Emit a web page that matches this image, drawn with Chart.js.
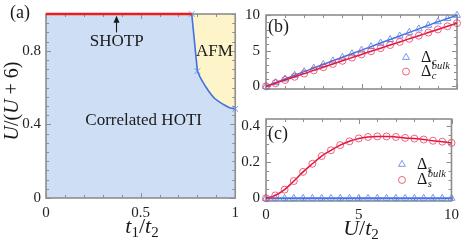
<!DOCTYPE html>
<html>
<head>
<meta charset="utf-8">
<script src="https://cdn.jsdelivr.net/npm/chart.js@4.4.0/dist/chart.umd.min.js"></script>
<style>
  body { margin: 0; background: #fff; }
  #wrap { position: relative; width: 464px; height: 243px; overflow: hidden; }
  canvas { position: absolute; }
</style>
</head>
<body>
<div id="wrap">
  <canvas id="pa" width="245" height="243" style="left:0px;top:0px"></canvas>
  <canvas id="pb" width="228" height="104" style="left:236px;top:0px"></canvas>
  <canvas id="pc" width="228" height="139" style="left:236px;top:104px"></canvas>
</div>
<script>
// --- Dados do painel (a): diagrama de fases ---
const shotpX = [0, 0.77];
const shotpY = [1, 1];
const boundaryX = [0.77, 0.80, 0.815, 0.83, 0.845, 0.86, 0.875, 0.89, 0.91, 0.93, 0.95, 0.97, 1.0];
const boundaryY = [1.0, 0.69, 0.655, 0.628, 0.603, 0.58, 0.56, 0.542, 0.526, 0.513, 0.501, 0.491, 0.484];
const computedX = [0.77, 0.80, 1.0];
const computedY = [1.0, 0.69, 0.484];
const aXTicks = [0, 0.5, 1];
const aYTicks = [0, 0.4, 0.8];

// --- Dados dos painéis (b) e (c) ---
const uValues = [0, 0.5, 1, 1.5, 2, 2.5, 3, 3.5, 4, 4.5, 5, 5.5, 6, 6.5, 7, 7.5, 8, 8.5, 9, 9.5, 10];
const chargeGap = [0, 0.52, 1.04, 1.56, 2.07, 2.58, 3.09, 3.6, 4.1, 4.6, 5.1, 5.6, 6.1, 6.6, 7.1, 7.6, 8.1, 8.6, 9.1, 9.55, 10.0];
const chargeGapBulk = [0, 0.45, 0.9, 1.35, 1.8, 2.25, 2.7, 3.15, 3.6, 4.05, 4.5, 4.94, 5.38, 5.82, 6.26, 6.7, 7.14, 7.58, 8.02, 8.46, 8.9];
const spinGap = [0, 0, 0, 0, 0, 0, 0, 0, 0, 0, 0, 0, 0, 0, 0, 0, 0, 0, 0, 0, 0];
const spinGapBulk = [0, 0.016, 0.048, 0.096, 0.147, 0.192, 0.235, 0.267, 0.296, 0.317, 0.333, 0.341, 0.344, 0.344, 0.341, 0.336, 0.332, 0.327, 0.32, 0.315, 0.308];
const bcXTicks = [0, 5, 10];
const bYTicks = [0, 5, 10];
const cYTicks = [0, 0.2, 0.4];

// --- Estilo ---
const SERIF = '"Liberation Serif", "DejaVu Serif", serif';
const INK = '#1a1a1a';
const FRAME = '#8e8e8e';
const BLUE = '#4170e0';
const BLUE_MK = 'rgba(95,135,235,0.85)';
const RED = '#e3123f';
const RED_MK = 'rgba(235,50,80,0.75)';

Chart.defaults.font.family = SERIF;
Chart.defaults.color = INK;

const pts = (xs, ys) => xs.map((x, i) => ({ x, y: ys[i] }));

// texto com partes em itálico / sub / sobrescrito: [texto, tamanho, itálico, dy]
const richText = (ctx, x, y, parts, align = 'center') => {
  const fontOf = (s, it) => `${it ? 'italic ' : ''}${s}px ${SERIF}`;
  const widths = parts.map(([t, s, it]) => { ctx.font = fontOf(s, it); return ctx.measureText(t).width; });
  const total = widths.reduce((a, b) => a + b, 0);
  let cx = align === 'center' ? x - total / 2 : align === 'right' ? x - total : x;
  ctx.textBaseline = 'alphabetic';
  ctx.textAlign = 'left';
  parts.forEach(([t, s, it, dy = 0], i) => {
    ctx.font = fontOf(s, it);
    ctx.fillText(t, cx, y + dy);
    cx += widths[i];
  });
};

// moldura com ticks para dentro nos quatro lados
const drawFrame = (chart, opts) => {
  const { ctx, chartArea: a, scales: { x, y } } = chart;
  ctx.save();
  ctx.strokeStyle = FRAME;
  ctx.lineWidth = 1;
  const seg = (x1, y1, x2, y2) => { ctx.beginPath(); ctx.moveTo(x1, y1); ctx.lineTo(x2, y2); ctx.stroke(); };
  const steps = (min, max, st) => { const out = []; for (let v = min; v <= max + 1e-9; v += st) out.push(v); return out; };
  const xMaj = x.ticks.map(t => t.value);
  const yMaj = y.ticks.map(t => t.value);
  steps(Math.ceil(x.min / opts.xMinor - 1e-9) * opts.xMinor, x.max, opts.xMinor).forEach(v => {
    const len = xMaj.some(m => Math.abs(m - v) < 1e-6) ? 5 : 3;
    const px = Math.round(x.getPixelForValue(v)) + 0.5;
    seg(px, a.bottom, px, a.bottom - len);
    seg(px, a.top, px, a.top + len);
  });
  steps(Math.ceil(y.min / opts.yMinor - 1e-9) * opts.yMinor, y.max, opts.yMinor).forEach(v => {
    const len = yMaj.some(m => Math.abs(m - v) < 1e-6) ? 5 : 3;
    const py = Math.round(y.getPixelForValue(v)) + 0.5;
    seg(a.left, py, a.left + len, py);
    seg(a.right, py, a.right - len, py);
  });
  ctx.lineWidth = 1.6;
  ctx.strokeRect(a.left, a.top, a.right - a.left, a.bottom - a.top);
  ctx.restore();
};

const frameTicks = {
  id: 'frameTicks',
  beforeDatasetsDraw(chart, args, opts) {
    if (opts.afterIndex === undefined) drawFrame(chart, opts);
  },
  afterDatasetDraw(chart, args, opts) {
    if (args.index === opts.afterIndex) drawFrame(chart, opts);
  }
};

const axis = (min, max, ticks, size, pad, extra = {}) => ({
  type: 'linear', min, max,
  grid: { display: false, drawTicks: false },
  border: { display: false },
  afterBuildTicks: s => { s.ticks = ticks.map(v => ({ value: v })); },
  ticks: { font: { size: 15 }, color: '#222', padding: pad, callback: v => String(v), ...extra },
  afterFit: s => { if (s.isHorizontal()) s.height = size; else s.width = size; }
});

// --- Painel (a) ---
new Chart(document.getElementById('pa'), {
  type: 'scatter',
  data: {
    datasets: [
      {
        data: pts(shotpX, shotpY), showLine: true, clip: false,
        borderColor: '#ee1c1c', borderWidth: 2.6, pointRadius: 0
      },
      {
        data: pts(computedX, computedY), showLine: false, clip: false,
        pointStyle: 'crossRot', pointRadius: 4, pointBorderColor: BLUE_MK, pointBorderWidth: 1
      },
      {
        data: pts(boundaryX, boundaryY), showLine: true, fill: 'end',
        backgroundColor: '#fdf4c9', borderColor: BLUE, borderWidth: 1.6,
        tension: 0, pointRadius: 0
      }
    ]
  },
  options: {
    responsive: false, animation: false, events: [],
    layout: { padding: { top: 7, right: 8 }, autoPadding: false },
    plugins: {
      legend: { display: false }, tooltip: { enabled: false },
      frameTicks: { xMinor: 0.1, yMinor: 0.05, afterIndex: 2 }
    },
    scales: {
      x: axis(0, 1, aXTicks, 45, 6),
      y: axis(0, 1, aYTicks, 46, 5)
    }
  },
  plugins: [
    {
      id: 'phaseBg',
      beforeDatasetsDraw(chart) {
        const { ctx, chartArea: a } = chart;
        ctx.save();
        ctx.fillStyle = '#cddef5';
        ctx.fillRect(a.left, a.top, a.right - a.left, a.bottom - a.top);
        ctx.restore();
      }
    },
    frameTicks,
    {
      id: 'phaseText',
      afterDraw(chart) {
        const { ctx, scales: { x, y } } = chart;
        ctx.save();
        ctx.fillStyle = INK;
        richText(ctx, 10, 18, [['(a)', 18, false]], 'left');
        richText(ctx, x.getPixelForValue(0.374), y.getPixelForValue(0.827), [['SHOTP', 17, false]]);
        richText(ctx, x.getPixelForValue(0.89), y.getPixelForValue(0.77), [['AFM', 17, false]]);
        richText(ctx, x.getPixelForValue(0.516), y.getPixelForValue(0.398), [['Correlated HOTI', 17, false]]);
        // seta SHOTP
        const ax = Math.round(x.getPixelForValue(0.37)) + 0.5;
        const top = y.getPixelForValue(0.99), bot = y.getPixelForValue(0.9);
        ctx.strokeStyle = INK; ctx.lineWidth = 1.1;
        ctx.beginPath(); ctx.moveTo(ax, bot); ctx.lineTo(ax, top + 3); ctx.stroke();
        ctx.beginPath(); ctx.moveTo(ax, top); ctx.lineTo(ax - 3, top + 7); ctx.lineTo(ax + 3, top + 7); ctx.closePath(); ctx.fill();
        // títulos dos eixos
        richText(ctx, 142, 233, [['t', 22, true], ['1', 15, false, 4], ['/', 22, false], ['t', 22, true], ['2', 15, false, 4]]);
        ctx.translate(18, 101);
        ctx.rotate(-Math.PI / 2);
        richText(ctx, 0, 0, [['U', 20, true], ['/(', 20, false], ['U', 20, true], [' + 6)', 20, false]]);
        ctx.restore();
      }
    }
  ]
});

// legenda desenhada dentro do gráfico
const legendEntry = (ctx, x, y, style, color, sub, sup) => {
  ctx.save();
  ctx.strokeStyle = color;
  ctx.fillStyle = 'rgba(0,0,0,0)';
  Chart.helpers.drawPoint(ctx, { pointStyle: style, radius: style === 'circle' ? 3.5 : 4, rotation: 0, borderWidth: 1 }, x, y);
  ctx.fillStyle = INK;
  const tx = x + 15, base = y + 4.5;
  richText(ctx, tx, base, [['Δ', 16, false]], 'left');
  ctx.font = `16px ${SERIF}`;
  const dw = ctx.measureText('Δ').width;
  richText(ctx, tx + dw + 0.5, base + 3, [[sub, 10.5, true]], 'left');
  if (sup) richText(ctx, tx + dw + 0.5, base - 7.5, [[sup, 10.5, true]], 'left');
  ctx.restore();
};

const gapChart = (id, opts) => new Chart(document.getElementById(id), {
  type: 'scatter',
  data: {
    datasets: [
      {
        data: pts(uValues, opts.red), showLine: true, clip: false,
        borderColor: RED, borderWidth: 1.5, cubicInterpolationMode: 'monotone',
        pointStyle: 'circle', pointRadius: 3.5, pointBorderColor: RED_MK,
        pointBackgroundColor: 'rgba(0,0,0,0)', pointBorderWidth: 1
      },
      {
        data: pts(uValues, opts.blue), showLine: true, clip: false,
        borderColor: BLUE, borderWidth: opts.blueWidth, cubicInterpolationMode: 'monotone',
        pointStyle: 'triangle', pointRadius: 4, pointBorderColor: BLUE_MK,
        pointBackgroundColor: 'rgba(0,0,0,0)', pointBorderWidth: 1
      }
    ]
  },
  options: {
    responsive: false, animation: false, events: [],
    layout: { padding: { top: opts.top, right: 7 }, autoPadding: false },
    plugins: {
      legend: { display: false }, tooltip: { enabled: false },
      frameTicks: { xMinor: 1, yMinor: opts.yMinor }
    },
    scales: {
      x: axis(0, 10, bcXTicks, opts.xHeight, 5, { display: opts.xLabels }),
      y: axis(opts.yMin, opts.yMax, opts.yTicks, 30, 6)
    }
  },
  plugins: [
    frameTicks,
    {
      id: 'gapText',
      afterDraw(chart) {
        const { ctx, chartArea: a, scales: { x, y } } = chart;
        ctx.save();
        ctx.fillStyle = INK;
        richText(ctx, a.left + 2, a.top + opts.tagY, [[opts.tag, 18, false]], 'left');
        const lx = x.getPixelForValue(7.33);
        legendEntry(ctx, lx, y.getPixelForValue(opts.legY[0]), 'triangle', BLUE_MK, opts.sub);
        legendEntry(ctx, lx, y.getPixelForValue(opts.legY[1]), 'circle', RED_MK, opts.sub, 'bulk');
        if (opts.xLabels) {
          richText(ctx, 125, 131, [['U', 22, true], ['/', 22, false], ['t', 22, true], ['2', 15, false, 4]]);
        }
        ctx.restore();
      }
    }
  ]
});

// --- Painel (b) ---
gapChart('pb', {
  red: chargeGapBulk, blue: chargeGap, blueWidth: 1.5,
  top: 6, xHeight: 5, xLabels: false,
  yMin: -0.37, yMax: 10.05, yTicks: bYTicks, yMinor: 1,
  tag: '(b)', tagY: 17, legY: [4.08, 2.08], sub: 'c'
});

// --- Painel (c) ---
gapChart('pc', {
  red: spinGapBulk, blue: spinGap, blueWidth: 2,
  top: 3, xHeight: 42, xLabels: true,
  yMin: -0.015, yMax: 0.441, yTicks: cYTicks, yMinor: 0.05,
  tag: '(c)', tagY: 20, legY: [0.189, 0.102], sub: 's'
});
</script>
</body>
</html>
